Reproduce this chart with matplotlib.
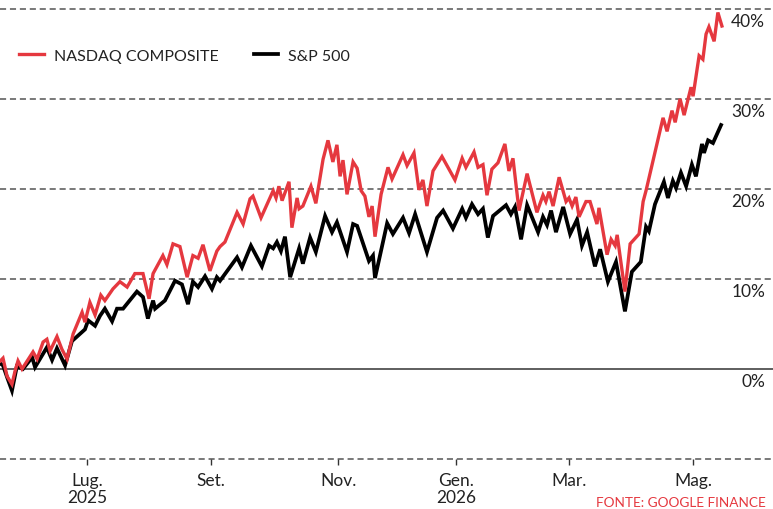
import matplotlib
matplotlib.use("Agg")
import matplotlib.pyplot as plt
import matplotlib.transforms as mtransforms

plt.rcParams['font.family'] = ['Lato', 'DejaVu Sans']

# trading-day index (0 = mid May 2025) and % change
nasdaq_days = [0, 0.9, 2.3, 4.0, 5.1, 6.1, 7.5, 11.3, 12.7, 14.8, 16.1, 17.2, 19.6, 21.3, 23.1,
               25.2, 28.3, 29.3, 31.0, 32.8, 34.8, 36.2, 39.0, 41.4, 43.9, 46.6, 49.4, 51.5, 52.9,
               56.3, 57.7, 59.8, 62.2, 64.7, 66.7, 68.5, 70.2, 72.6, 75.0, 76.1, 77.8, 82.0, 84.1,
               86.5, 87.5, 90.3, 94.5, 95.5, 96.5, 97.6, 100.0, 101.0, 102.8, 103.5, 104.8, 107.6,
               109.3, 111.8, 113.5, 115.2, 116.6, 117.7, 118.7, 120.1, 122.2, 123.6, 125.0, 126.3,
               127.7, 128.8, 129.8, 131.9, 134.3, 135.7, 139.5, 140.9, 143.3, 145.0, 146.4, 147.8,
               149.9, 153.0, 157.5, 160.0, 161.3, 164.1, 165.5, 167.2, 168.6, 170.3, 172.4, 174.8,
               176.2, 177.6, 179.7, 182.5, 185.9, 188.0, 189.0, 190.1, 191.5, 193.6, 196.0, 197.0,
               198.1, 199.4, 200.5, 202.9, 204.3, 206.7, 207.4, 208.8, 210.2, 211.6, 213.0, 213.7,
               216.4, 218.2, 221.3, 222.7, 223.7, 229.6, 231.0, 232.7, 233.8, 235.5, 236.9, 239.3,
               240.0, 242.1, 243.4, 244.5, 245.5, 247.3, 248.6, 250.0]
nasdaq_pct = [0.9, 1.2, -0.8, -1.7, -0.2, 0.9, 0.0, 1.9, 1.1, 3.0, 3.3, 2.0, 3.6, 2.2, 1.1,
              3.9, 6.3, 5.2, 7.4, 6.0, 8.2, 7.6, 8.9, 9.7, 9.1, 10.6, 10.6, 7.8, 10.6,
              12.6, 11.6, 13.9, 13.6, 10.2, 12.6, 12.3, 13.8, 10.9, 13.1, 13.6, 14.1, 17.4, 16.1,
              18.9, 19.2, 16.8, 19.8, 19.0, 20.3, 18.7, 20.8, 15.7, 19.0, 17.8, 18.1, 20.3,
              18.4, 23.3, 25.4, 23.0, 24.9, 21.4, 23.2, 19.4, 23.0, 22.3, 19.8, 19.2,
              16.9, 18.1, 14.7, 19.4, 22.4, 21.1, 23.8, 22.6, 24.0, 19.9, 21.0, 18.1,
              22.0, 23.6, 21.0, 23.4, 22.4, 24.1, 22.4, 22.7, 19.3, 22.2, 22.9, 25.0,
              22.0, 23.4, 17.6, 21.7, 17.4, 19.3, 18.6, 19.7, 18.1, 21.3, 18.6, 19.0,
              18.1, 19.1, 16.9, 18.6, 18.6, 16.1, 17.9, 15.3, 12.7, 14.4, 13.7, 14.9,
              8.6, 13.9, 15.0, 18.6, 19.8, 27.9, 26.4, 28.7, 27.4, 30.0, 28.2, 31.3,
              30.3, 34.8, 34.4, 37.2, 38.0, 36.4, 39.6, 38.1]

sp500_days = [0, 0.9, 2.3, 4.0, 5.7, 7.8, 11.0, 12.0, 16.1, 17.9, 19.6, 22.4, 24.8, 29.3, 30.4,
              32.8, 34.5, 36.2, 38.7, 40.4, 42.5, 47.3, 49.4, 51.1, 52.9, 53.6, 57.0, 60.5, 62.9,
              65.0, 66.7, 68.5, 70.9, 73.3, 75.0, 76.1, 82.0, 83.7, 86.8, 90.6, 93.1, 94.5, 95.8,
              97.2, 98.6, 100.4, 103.5, 104.8, 107.3, 109.3, 112.5, 114.9, 116.6, 120.1, 122.2,
              123.6, 127.7, 129.1, 129.8, 134.0, 136.0, 139.5, 141.6, 143.7, 147.8, 151.3, 153.4,
              156.8, 160.0, 161.3, 163.4, 165.5, 167.2, 168.9, 170.7, 175.2, 176.9, 178.3, 180.4,
              182.5, 186.3, 188.0, 189.4, 190.8, 192.5, 195.0, 197.4, 199.8, 201.5, 203.3, 206.0,
              207.8, 210.5, 213.3, 216.4, 218.8, 221.9, 223.7, 224.7, 226.8, 229.9, 231.3, 233.0,
              234.1, 235.8, 237.6, 239.6, 241.0, 243.1, 243.8, 245.2, 246.9, 249.7]
sp500_pct = [0.6, 0.4, -0.9, -2.4, 0.3, 0.0, 1.3, 0.2, 2.4, 1.0, 2.3, 0.4, 3.1, 4.4, 5.4,
             4.8, 5.9, 6.7, 5.3, 6.7, 6.7, 8.6, 8.0, 5.6, 7.6, 6.7, 7.6, 9.8, 9.4,
             7.2, 9.7, 9.1, 10.3, 8.9, 10.2, 9.8, 12.4, 11.3, 13.7, 11.4, 13.7, 13.4, 14.1,
             13.1, 14.7, 10.2, 13.4, 11.7, 14.6, 13.0, 17.0, 15.2, 16.3, 13.0, 16.1,
             15.9, 12.0, 12.6, 10.1, 16.2, 15.0, 16.8, 15.1, 17.2, 13.0, 16.8, 17.6,
             15.6, 17.8, 16.8, 18.3, 17.2, 17.8, 14.6, 17.0, 18.2, 17.2, 18.0, 14.4,
             18.2, 15.2, 16.9, 16.0, 17.6, 15.2, 18.0, 15.0, 16.6, 13.7, 15.2, 11.4,
             13.3, 9.7, 11.9, 6.4, 10.8, 11.9, 15.8, 15.3, 18.3, 20.8, 19.0, 20.9,
             20.1, 21.8, 20.3, 22.7, 21.4, 25.0, 24.0, 25.4, 25.1, 27.1]

tick_days = [30, 73, 117, 158, 197, 240]
tick_labels = ["Lug.\n2025", "Set.", "Nov.", "Gen.\n2026", "Mar.", "Mag."]
grid_levels = [-10, 10, 20, 30, 40]
label_levels = [0, 10, 20, 30, 40]

red = "#E5383F"
fig = plt.figure(figsize=(7.73, 5.10), dpi=100)
ax = fig.add_axes([0, 0.098, 1, 0.902])
ax.set_xlim(-0.14, 267.7)
ax.set_ylim(-10, 41.1)

for g in grid_levels:
    ax.axhline(g, color="#555555", lw=1.1, ls=(0, (4, 2.5)), zorder=1, clip_on=False)
ax.axhline(0, color="#333333", lw=1.1, zorder=1)

ax.plot(sp500_days, sp500_pct, color="black", lw=2.7, solid_joinstyle="miter", label="S&P 500", zorder=3)
ax.plot(nasdaq_days, nasdaq_pct, color=red, lw=2.4, solid_joinstyle="miter", label="NASDAQ COMPOSITE", zorder=4)

trans = mtransforms.blended_transform_factory(ax.transAxes, ax.transData)
for v in label_levels:
    ax.text(0.99, v - 0.45, f"{v}%", transform=trans, ha="right", va="top", fontsize=12.5, color="#222222")

for s in ax.spines.values():
    s.set_visible(False)
ax.set_yticks([])
ax.set_xticks(tick_days)
ax.set_xticklabels(tick_labels, fontsize=12.5, color="#222222", linespacing=1.1)
ax.tick_params(axis="x", length=4, width=1, color="#333333", pad=5)

handles, labels = ax.get_legend_handles_labels()
leg = ax.legend(handles[::-1], labels[::-1], loc="upper left", bbox_to_anchor=(0.0065, 0.924), ncol=2,
                frameon=False, fontsize=11.5, handlelength=1.55, handletextpad=0.6, columnspacing=2.2)
for t in leg.get_texts():
    t.set_color("#222222")

fig.text(0.99, 0.002, "FONTE: GOOGLE FINANCE", color=red, fontsize=9.8, ha="right", va="bottom")

fig.savefig("out.png", dpi=100)
